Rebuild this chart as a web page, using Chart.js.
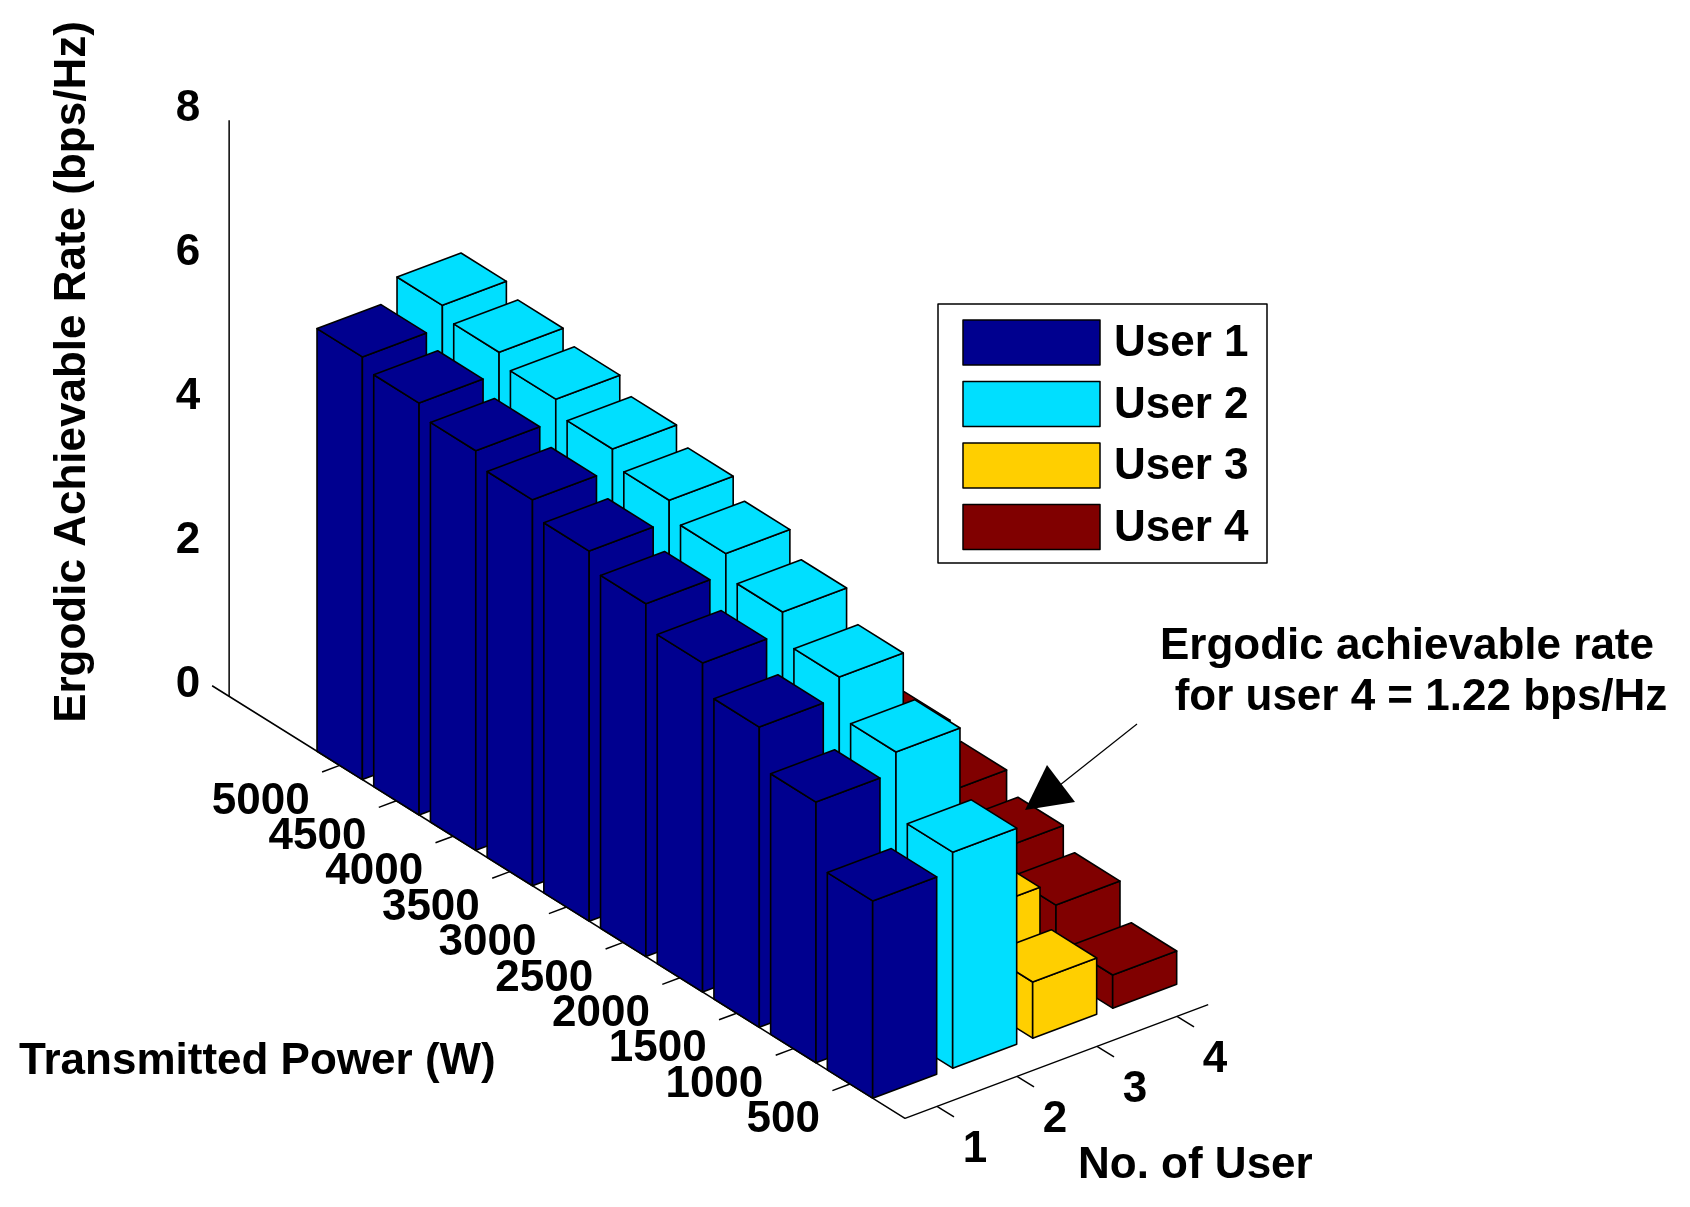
<!DOCTYPE html>
<html><head><meta charset="utf-8">
<script src="https://cdn.jsdelivr.net/npm/chart.js@4/dist/chart.umd.min.js"></script>
<style>html,body{margin:0;padding:0;background:#fff}</style>
</head><body>
<canvas id="c" width="1690" height="1207"></canvas>
<script>
// ---- data ----
const powers = [500, 1000, 1500, 2000, 2500, 3000, 3500, 4000, 4500, 5000];
const users = ['User 1', 'User 2', 'User 3', 'User 4'];
const userTicks = [1, 2, 3, 4];
const zTicks = [0, 2, 4, 6, 8];
const user1 = [2.74, 3.62, 4.17, 4.57, 4.90, 5.14, 5.36, 5.55, 5.72, 5.87];
const user2 = [3.00, 3.90, 4.45, 4.86, 5.18, 5.43, 5.65, 5.85, 6.01, 6.17];
const user3 = [0.78, 1.27, 1.60, 1.85, 2.05, 2.20, 2.35, 2.45, 2.55, 2.65];
const user4 = [0.46, 0.94, 1.22, 1.50, 1.70, 1.82, 1.92, 2.00, 2.05, 2.10];
const colors = ['#00008F', '#00DFFF', '#FFCF00', '#800000'];
const series = [user1, user2, user3, user4];

const FONT = 'bold 44px "Liberation Sans", Arial, sans-serif';

const plugin = {
  id: 'bar3d',
  afterDraw(chart) {
    const ctx = chart.ctx, sx = chart.scales.x, sy = chart.scales.y;
    const P = (t, u, z) => {
      const x = 850 - 56.7 * t + 80 * (u - 0.6);
      const y = 1084 - 35.4 * t - 30 * (u - 0.6) - 72 * z;
      return [sx.getPixelForValue(x), sy.getPixelForValue(y)];
    };
    const poly = (pts, fill) => {
      ctx.beginPath();
      pts.forEach((p, i) => i ? ctx.lineTo(p[0], p[1]) : ctx.moveTo(p[0], p[1]));
      ctx.closePath();
      if (fill) { ctx.fillStyle = fill; ctx.fill(); }
      ctx.stroke();
    };
    ctx.save();
    ctx.lineJoin = 'round';
    ctx.strokeStyle = '#000';
    ctx.lineWidth = 1.5;
    const zt = 10.95, u0 = 0.6, tf = -0.97, ue = 4.39;
    let a = P(11.25, u0, 0), b = P(tf, u0, 0), c = P(tf, ue, 0);
    ctx.beginPath(); ctx.moveTo(a[0], a[1]); ctx.lineTo(b[0], b[1]); ctx.lineTo(c[0], c[1]); ctx.stroke();
    a = P(zt, u0, 0); b = P(zt, u0, 8);
    ctx.beginPath(); ctx.moveTo(a[0], a[1]); ctx.lineTo(b[0], b[1]); ctx.stroke();
    ctx.font = FONT; ctx.fillStyle = '#000';
    ctx.textAlign = 'right'; ctx.textBaseline = 'middle';
    zTicks.forEach(v => { const p = P(zt, u0, v); ctx.fillText(String(v), p[0] - 29, p[1] - 12); });
    powers.forEach((pw, i) => {
      const p = P(i, u0, 0), q = P(i, u0 - 0.22, 0);
      ctx.beginPath(); ctx.moveTo(p[0], p[1]); ctx.lineTo(q[0], q[1]); ctx.stroke();
      ctx.fillText(String(pw), p[0] - 30, p[1] + 36);
    });
    ctx.textAlign = 'center';
    userTicks.forEach(uv => {
      const p = P(tf, uv, 0), q = P(tf - 0.3, uv, 0);
      ctx.beginPath(); ctx.moveTo(p[0], p[1]); ctx.lineTo(q[0], q[1]); ctx.stroke();
      ctx.fillText(String(uv), p[0] + 38, p[1] + 44);
    });
    // bars, back to front
    ctx.lineWidth = 1.6;
    const w = 0.4;
    for (let t = powers.length - 1; t >= 0; t--) {
      for (let s = series.length - 1; s >= 0; s--) {
        const h = series[s][t], uc = s + 1;
        const A0 = P(t - w, uc - w, 0), D0 = P(t - w, uc + w, 0), B0 = P(t + w, uc - w, 0);
        const A = P(t - w, uc - w, h), D = P(t - w, uc + w, h);
        const B = P(t + w, uc - w, h), C = P(t + w, uc + w, h);
        poly([B0, A0, A, B], colors[s]);
        poly([A0, D0, D, A], colors[s]);
        poly([A, D, C, B], colors[s]);
      }
    }
    ctx.fillStyle = '#000';
    ctx.textAlign = 'left'; ctx.textBaseline = 'middle';
    ctx.fillText('Transmitted Power (W)', 19, 1062);
    ctx.fillText('No. of User', 1078, 1166);
    ctx.save(); ctx.translate(73, 372); ctx.rotate(-Math.PI / 2);
    ctx.textAlign = 'center'; ctx.fillText('Ergodic Achievable Rate (bps/Hz)', 0, 0); ctx.restore();
    // legend
    ctx.lineWidth = 1.5;
    ctx.fillStyle = '#fff'; ctx.fillRect(938, 304, 329, 259); ctx.strokeRect(938, 304, 329, 259);
    users.forEach((name, i) => {
      const y = 342 + i * 61.5;
      ctx.fillStyle = colors[i]; ctx.fillRect(963, y - 22, 137, 45);
      ctx.strokeRect(963, y - 22, 137, 45);
      ctx.fillStyle = '#000'; ctx.fillText(name, 1114, y + 2);
    });
    // annotation
    ctx.fillStyle = '#000';
    ctx.textAlign = 'center';
    ctx.fillText('Ergodic achievable rate', 1407, 647);
    ctx.fillText('for user 4 = 1.22 bps/Hz', 1421, 698);
    ctx.lineWidth = 1.2;
    ctx.beginPath(); ctx.moveTo(1137, 724); ctx.lineTo(1060, 785); ctx.stroke();
    ctx.beginPath(); ctx.moveTo(1047, 765); ctx.lineTo(1075, 802); ctx.lineTo(1025, 810); ctx.closePath();
    ctx.fill();
    ctx.restore();
  }
};

new Chart(document.getElementById('c'), {
  type: 'scatter',
  data: { datasets: [{ data: [], showLine: false }] },
  options: {
    responsive: false, animation: false, devicePixelRatio: 1,
    layout: { padding: 0 },
    plugins: { legend: { display: false }, tooltip: { enabled: false } },
    scales: {
      x: { type: 'linear', min: 0, max: 1690, display: false },
      y: { type: 'linear', min: 0, max: 1207, reverse: true, display: false }
    }
  },
  plugins: [plugin]
});
</script>
</body></html>
